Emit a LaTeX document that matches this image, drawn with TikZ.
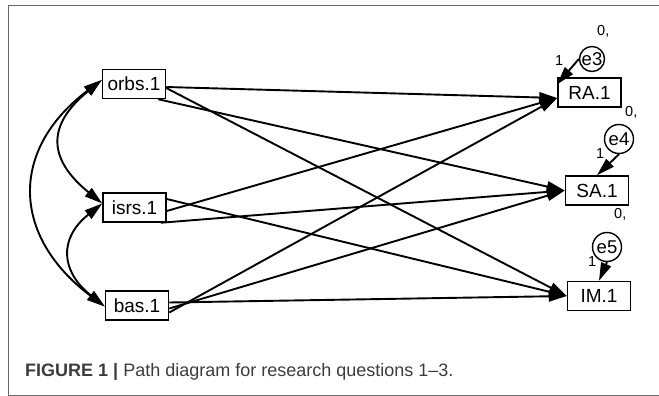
\documentclass[tikz,border=0pt]{standalone}
\usepackage{fontspec}
\setmainfont{Liberation Sans}
\usetikzlibrary{arrows.meta}
\definecolor{framecol}{HTML}{6A6A6A}
\definecolor{capcol}{HTML}{3C3C3C}
\begin{document}
\begin{tikzpicture}[x=1pt,y=-1pt,
  box/.style={draw, line width=1.5pt, rectangle, minimum width=63pt, minimum height=29pt, inner sep=0pt, font=\fontsize{19}{20}\selectfont},
  err/.style={draw, circle, line width=1.4pt, minimum size=29pt, inner sep=0pt, font=\fontsize{18.5}{20}\selectfont},
  lbl/.style={inner sep=0pt, anchor=base west, font=\fontsize{14.5}{15}\selectfont},
  pth/.style={line width=1.9pt, -{Triangle[length=18pt,width=10.5pt]}},
  cov/.style={line width=1.9pt, {Triangle[length=18pt,width=10.5pt]}-{Triangle[length=18pt,width=10.5pt]}}]
\useasboundingbox (0,0) rectangle (659,396);
% frame
\draw[framecol, line width=1pt] (659,6) -- (8,6) -- (8,395) -- (659,395);
% exogenous
\node[box] (orbs) at (134,84) {orbs.1};
\node[box] (isrs) at (134.5,207.5) {isrs.1};
\node[box] (bas) at (137,305.5) {bas.1};
% endogenous
\node[box] (RA) at (589.5,92.5) {RA.1};
\node[box] (SA) at (597,190.5) {SA.1};
\node[box] (IM) at (599,296) {IM.1};
% errors
\node[err, minimum size=25pt] (e3) at (592,59) {e3};
\node[err] (e4) at (619,139) {e4};
\node[err] (e5) at (607,247) {e5};
% labels
\node[lbl] (v3) at (597,36) {0,};
\node[lbl] (v4) at (625,117) {0,};
\node[lbl] (v5) at (614,218) {0,};
\node[lbl] (w3) at (555,66) {1};
\node[lbl] (w4) at (596,158) {1};
\node[lbl] (w5) at (588,266) {1};
% paths
\draw[pth] ([yshift=-3pt]orbs.east) -- ([yshift=-5.5pt]RA.west);
\draw[pth] ([xshift=-8pt]orbs.south east) -- (SA.west);
\draw[pth] ([yshift=-4pt]orbs.east) -- (IM.west);
\draw[pth] ([yshift=-3.5pt]isrs.east) -- ([yshift=-5.5pt]RA.west);
\draw[pth] ([xshift=-6pt]isrs.south east) -- (SA.west);
\draw[pth] ([yshift=8.5pt]isrs.east) -- (IM.west);
\draw[pth] ([yshift=-7pt]bas.east) -- ([yshift=-5.5pt]RA.west);
\draw[pth] ([yshift=-3pt]bas.east) -- (SA.west);
\draw[pth] ([yshift=3pt]bas.east) -- (IM.west);
% error arrows
\draw[pth] (e3.west) -- ([yshift=-7pt]RA.north west);
\draw[pth] (e4.south) -- (SA.north);
\draw[pth] (e5.south) -- (IM.north);
% covariances
\draw[cov] ([yshift=4pt]orbs.west) .. controls +(-55,45) and +(-55,-45) .. ([yshift=4pt]isrs.west);
\draw[cov] ([yshift=4pt]orbs.west) .. controls +(-93,70) and +(-93,-70) .. ([yshift=-1pt]bas.west);
\draw[cov] ([yshift=4pt]isrs.west) .. controls +(-44,35) and +(-44,-35) .. ([yshift=-1pt]bas.west);
% caption
\node[anchor=base west, inner sep=0pt, text=capcol, font=\fontsize{18}{20}\selectfont] (cap) at (25,376) {\textbf{FIGURE 1 |} Path diagram for research questions 1--3.};
\end{tikzpicture}
\end{document}
